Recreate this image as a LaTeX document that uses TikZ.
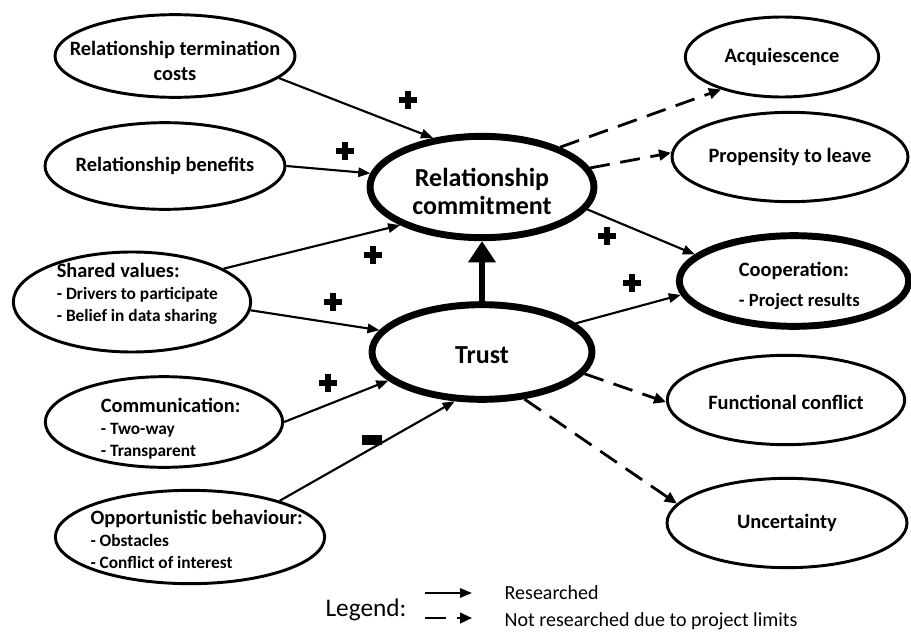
\documentclass[tikz,border=0pt]{standalone}
\usepackage{fontspec}
\setmainfont{Carlito}
\usetikzlibrary{shapes.geometric, arrows.meta}

\newcommand{\detailfont}{\fontsize{13}{16}\selectfont}

\begin{document}
\begin{tikzpicture}[x=0.75pt, y=-0.75pt,
    factor/.style={ellipse, draw, line width=2.2pt, inner sep=0pt},
    core/.style={factor, line width=5.2pt},
    heading/.style={align=center, inner sep=0pt, font=\bfseries\fontsize{15.3}{16.5}\selectfont},
    bigheading/.style={heading, font=\bfseries\fontsize{19.5}{21}\selectfont},
    link/.style={-{Triangle[length=9pt,width=7pt]}, line width=1.6pt},
    limited/.style={-{Triangle[length=9pt,width=8pt]}, line width=2.1pt, dash pattern=on 15pt off 8pt},
    mainlink/.style={-{Triangle[length=16pt,width=20pt]}, line width=5pt},
    plussign/.style={inner sep=0pt, minimum size=14pt,
        path picture={
            \fill ([xshift=-2.4pt]path picture bounding box.south) rectangle ([xshift=2.4pt]path picture bounding box.north);
            \fill ([yshift=-2.4pt]path picture bounding box.west) rectangle ([yshift=2.4pt]path picture bounding box.east);}},
    minussign/.style={fill, inner sep=0pt, minimum width=15pt, minimum height=8pt}]

    \useasboundingbox (0,0) rectangle (911,632);

    % antecedents
    \node[factor, minimum width=180pt, minimum height=62pt,
          label={[heading, yshift=-4pt, font=\bfseries\fontsize{15.3}{18.8}\selectfont]center:{Relationship termination\\costs}}] (rtc) at (175,56) {};
    \node[factor, minimum width=180pt, minimum height=65pt,
          label={[heading]center:{Relationship benefits}}] (rb) at (165,166) {};
    \node[factor, minimum width=178pt, minimum height=75pt,
          label={[heading, align=left, xshift=4pt, yshift=6pt]center:{Shared values:\\{\detailfont - Drivers to participate}\\{\detailfont - Belief in data sharing}}}] (shared) at (132,302) {};
    \node[factor, minimum width=178pt, minimum height=68pt,
          label={[heading, align=left, xshift=5pt, yshift=-5pt]center:{Communication:\\{\detailfont - Two-way}\\{\detailfont - Transparent}}}] (comm) at (164,422) {};
    \node[factor, minimum width=202pt, minimum height=70pt,
          label={[heading, align=left, xshift=5pt, yshift=-2pt]center:{Opportunistic behaviour:\\{\detailfont - Obstacles}\\{\detailfont - Conflict of interest}}}] (opp) at (190,537) {};

    % mediators
    \node[core, minimum width=168pt, minimum height=76pt,
          label={[bigheading, yshift=-3pt]center:{Relationship\\commitment}}] (commit) at (482,187) {};
    \node[core, minimum width=165pt, minimum height=71pt,
          label={[bigheading, yshift=-2pt]center:{Trust}}] (trust) at (482,352) {};

    % outcomes
    \node[factor, minimum width=145pt, minimum height=60pt,
          label={[heading]center:{Acquiescence}}] (acq) at (782,57) {};
    \node[factor, minimum width=177pt, minimum height=67pt,
          label={[heading]center:{Propensity to leave}}] (prop) at (790,157) {};
    \node[core, minimum width=172pt, minimum height=68pt,
          label={[heading, align=left, xshift=4pt, yshift=-4pt]center:{Cooperation:\\[6pt]{\fontsize{14}{16}\selectfont - Project results}}}] (coop) at (794,281) {};
    \node[factor, minimum width=178pt, minimum height=67pt,
          label={[heading, yshift=-2pt]center:{Functional conflict}}] (func) at (786,400) {};
    \node[factor, minimum width=180pt, minimum height=67pt,
          label={[heading]center:{Uncertainty}}] (unc) at (787,523) {};

    % researched links
    \draw[link] (rtc.-12) -- (commit.135);
    \draw[link] (rb.east) -- (commit.173);
    \draw[link] (shared.20) -- (commit.205);
    \draw[link] (shared.-4) -- (trust.168);
    \draw[link] (comm.east) -- (trust.197);
    \draw[link] (opp.22) -- (trust.241);
    \draw[link] (commit.-12) -- (coop.165);
    \draw[link] (trust.17) -- (coop.187);
    \draw[mainlink] (trust.north) -- (commit.south);

    % not researched
    \draw[limited] (commit.27) -- (acq.208);
    \draw[limited] (commit.10) -- (prop.178);
    \draw[limited] (trust.-12) -- (func.181);
    \draw[limited] (trust.-48) -- (unc.170);

    % signs
    \node[plussign] (s1) at (408,100) {};
    \node[plussign] (s2) at (345,151) {};
    \node[plussign] (s3) at (373,255) {};
    \node[plussign] (s4) at (333,302) {};
    \node[plussign] (s5) at (328,383) {};
    \node[minussign] (s6) at (372,440) {};
    \node[plussign] (s7) at (607,236) {};
    \node[plussign] (s8) at (632,283) {};

    % legend
    \node[font=\fontsize{19}{21}\selectfont] (legend) at (366,610) {Legend:};
    \coordinate (ra) at (425,593);
    \coordinate (rb2) at (472,593);
    \coordinate (na) at (425,618);
    \coordinate (nb) at (472,618);
    \draw[link] (ra) -- (rb2);
    \draw[limited, line width=1.6pt, dash pattern=on 16pt off 8pt] (na) -- (nb);
    \node[anchor=west, font=\fontsize{15}{17}\selectfont] (res) at (500,593) {Researched};
    \node[anchor=west, font=\fontsize{15}{17}\selectfont] (notres) at (500,621) {Not researched due to project limits};
\end{tikzpicture}
\end{document}
